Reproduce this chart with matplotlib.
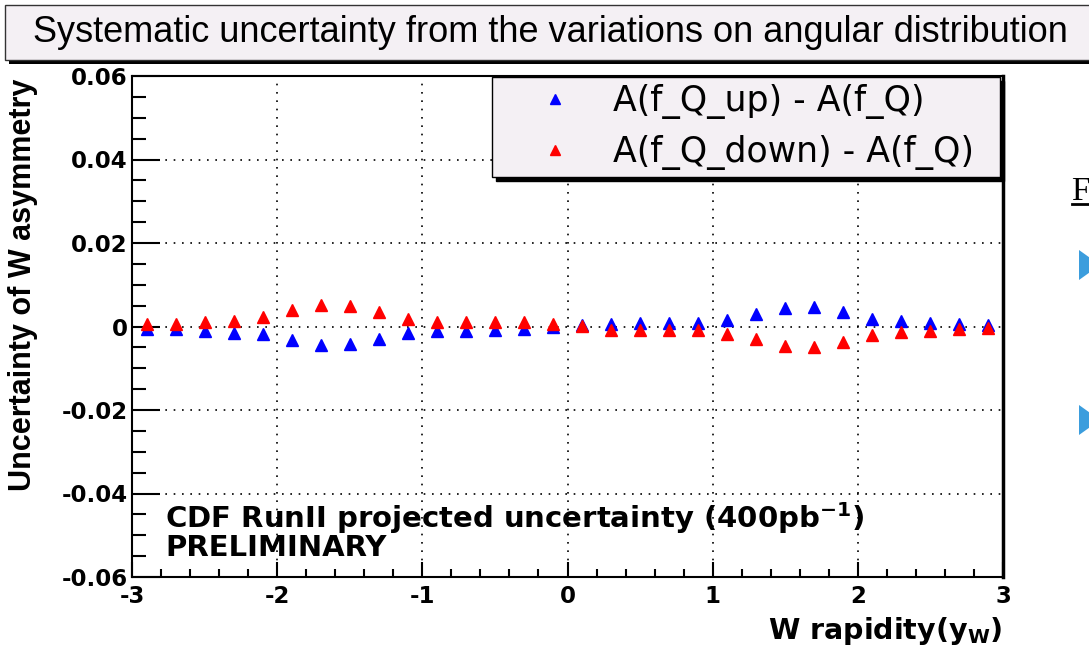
import numpy as np
import matplotlib
matplotlib.use("Agg")
from matplotlib import pyplot as plt
from matplotlib.patches import Rectangle, Polygon
from matplotlib.lines import Line2D
from matplotlib.ticker import MultipleLocator

plt.rcParams['font.family'] = ['Liberation Sans', 'DejaVu Sans']
plt.rcParams['mathtext.fontset'] = 'custom'
plt.rcParams['mathtext.rm'] = 'DejaVu Sans:bold'
plt.rcParams['mathtext.it'] = 'DejaVu Sans:bold'
plt.rcParams['mathtext.bf'] = 'DejaVu Sans:bold'

# bin centres in W rapidity
rapidity = [-2.9, -2.7, -2.5, -2.3, -2.1, -1.9, -1.7, -1.5, -1.3, -1.1,
            -0.9, -0.7, -0.5, -0.3, -0.1, 0.1, 0.3, 0.5, 0.7, 0.9,
            1.1, 1.3, 1.5, 1.7, 1.9, 2.1, 2.3, 2.5, 2.7, 2.9]
fq_up = [-0.0005, -0.0007, -0.0010, -0.0015, -0.0017, -0.0033, -0.0045, -0.0041, -0.0029, -0.0015,
         -0.0010, -0.0010, -0.0009, -0.0007, -0.0002, 0.0003, 0.0006, 0.0008, 0.0008, 0.0008,
         0.0015, 0.0030, 0.0044, 0.0047, 0.0035, 0.0019, 0.0012, 0.0009, 0.0006, 0.0003]
fq_down = [0.0005, 0.0007, 0.0010, 0.0013, 0.0023, 0.0039, 0.0051, 0.0048, 0.0035, 0.0019,
           0.0011, 0.0010, 0.0010, 0.0010, 0.0005, 0.0001, -0.0008, -0.0009, -0.0009, -0.0009,
           -0.0017, -0.0029, -0.0046, -0.0049, -0.0037, -0.0021, -0.0014, -0.0011, -0.0007, -0.0003]
labels = ["A(f_Q_up) - A(f_Q)", "A(f_Q_down) - A(f_Q)"]
yticks = [0.06, 0.04, 0.02, 0, -0.02, -0.04, -0.06]
yticklabels = ["0.06", "0.04", "0.02", "0", "-0.02", "-0.04", "-0.06"]
xticks = [-3, -2, -1, 0, 1, 2, 3]
xticklabels = ["-3", "-2", "-1", "0", "1", "2", "3"]

W, H = 1089, 654
fig = plt.figure(figsize=(W / 100, H / 100), dpi=100)

def fx(px):
    return px / W

def fy(py):
    return 1 - py / H

wide = ['DejaVu Sans']

# title box with ROOT-like shadow
fig.patches.append(Rectangle((fx(9), fy(64)), fx(1100 - 9), fy(8) - fy(64),
                             transform=fig.transFigure, facecolor='black', edgecolor='none'))
fig.patches.append(Rectangle((fx(5), fy(60)), fx(1100 - 5), fy(5) - fy(60),
                             transform=fig.transFigure, facecolor='#f4f0f4', edgecolor='#333333', lw=1))
fig.text(fx(550), fy(33), "Systematic uncertainty from the variations on angular distribution",
         ha='center', va='center', fontsize=26)

ax = fig.add_axes([fx(132), fy(577), fx(1003 - 132), fy(76) - fy(577)])
ax.plot(rapidity, fq_up, ls='none', marker='^', ms=9, color='#0000ff', label=labels[0])
ax.plot(rapidity, fq_down, ls='none', marker='^', ms=9, color='#ff0000', label=labels[1])

ax.set_xlim(-3, 3)
ax.set_ylim(-0.06, 0.06)
ax.xaxis.set_minor_locator(MultipleLocator(0.2))
ax.yaxis.set_minor_locator(MultipleLocator(0.005))
ax.set_yticks(yticks)
ax.set_yticklabels(yticklabels, family=wide, fontweight='bold', fontsize=16.5)
ax.set_xticks(xticks)
ax.set_xticklabels(xticklabels, family=wide, fontweight='bold', fontsize=16.5)
ax.tick_params(which='both', direction='in', top=False, right=False, width=1.5)
ax.tick_params(axis='y', which='major', length=20, pad=3)
ax.tick_params(axis='y', which='minor', length=10)
ax.tick_params(axis='x', which='major', length=11, pad=6)
ax.tick_params(axis='x', which='minor', length=6)
for s in ax.spines.values():
    s.set_linewidth(1.5)
ax.spines['right'].set_linewidth(2.5)
ax.grid(True, which='major', ls=(0, (1, 4)), color='black', lw=1.2)

ax.set_ylabel("Uncertainty of W asymmetry", fontweight='bold', fontsize=22, loc='top')
ax.yaxis.set_label_coords(-0.108, 0.995)
ax.set_xlabel(r"W rapidity(y$_\mathrm{W}$)", family=wide, fontweight='bold', fontsize=20.5,
              loc='right')
ax.xaxis.set_label_coords(1.0, -0.075)

ax.text(fx(165), fy(518), r"CDF RunII projected uncertainty (400pb$^{-1}$)",
        transform=fig.transFigure, family=wide, fontweight='bold', fontsize=21, va='center')
ax.text(fx(165), fy(548), "PRELIMINARY",
        transform=fig.transFigure, family=wide, fontweight='bold', fontsize=21, va='center')

leg = ax.legend(loc='upper left', bbox_to_anchor=(fx(492), fy(178), fx(508), fy(77) - fy(178)),
                bbox_transform=fig.transFigure, mode='expand', borderaxespad=0,
                prop={'family': wide, 'size': 25},
                handlelength=3.24, handletextpad=0.06, borderpad=0.195, labelspacing=0.475,
                fancybox=False, edgecolor='black', framealpha=1,
                shadow={'facecolor': 'black', 'edgecolor': 'black', 'alpha': 1, 'ox': 3, 'oy': -3})
leg.get_frame().set_facecolor('#f4f0f4')
leg.get_frame().set_linewidth(1.0)
for h in leg.legend_handles:
    h.set_markersize(7)

# slide leftovers on the right
fig.text(fx(1071), fy(200), "F", family='Liberation Serif', fontsize=24, ha='left', va='baseline')
fig.add_artist(Line2D([fx(1072), fx(1095)], [fy(204), fy(204)], transform=fig.transFigure,
                      color='black', lw=2))
for yc in (265, 420):
    fig.patches.append(Polygon([(fx(1079), fy(yc - 15)), (fx(1100), fy(yc)), (fx(1079), fy(yc + 15))],
                               closed=True, transform=fig.transFigure, facecolor='#3b9ddd',
                               edgecolor='none'))

fig.savefig("out.png", dpi=100)
